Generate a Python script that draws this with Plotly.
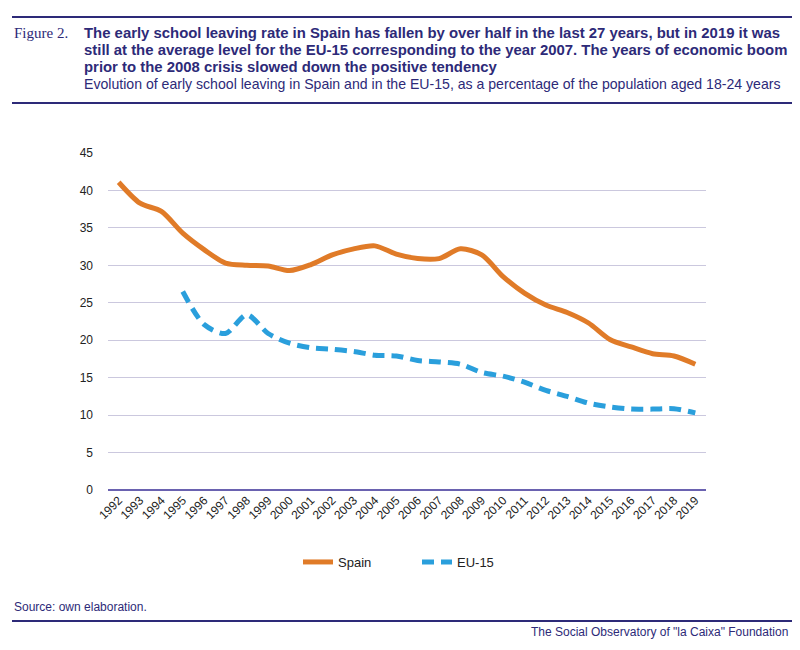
import plotly.graph_objects as go

years = [str(y) for y in range(1992, 2020)]
spain = [41.1, 38.3, 37.2, 34.3, 32.1, 30.3, 30.0, 29.9, 29.3, 30.1, 31.4, 32.2, 32.6,
         31.5, 30.9, 30.9, 32.2, 31.4, 28.5, 26.3, 24.7, 23.7, 22.3, 20.1, 19.1, 18.2,
         17.9, 16.8]
eu15_years = years[3:]
eu15 = [26.5, 22.1, 20.9, 23.4, 20.9, 19.6, 19.0, 18.8, 18.5, 18.0, 17.9, 17.3, 17.1,
        16.8, 15.7, 15.2, 14.4, 13.3, 12.5, 11.6, 11.1, 10.8, 10.8, 10.85, 10.3]

title_lines = [
    "The early school leaving rate in Spain has fallen by over half in the last 27 years, but in 2019 it was",
    "still at the average level for the EU-15 corresponding to the year 2007. The years of economic boom",
    "prior to the 2008 crisis slowed down the positive tendency",
]
subtitle = "Evolution of early school leaving in Spain and in the EU-15, as a percentage of the population aged 18-24 years"

NAVY = "#2d2a78"
ORANGE = "#e07b28"
BLUE = "#2a9fdc"

# the page body adds an 8px margin, so work in shifted pixel coords
OFF = 8
W, H = 800 - OFF, 650 - OFF
L, R, T, B = 108 - OFF, 706 - OFF, 153 - OFF, 490 - OFF


def px(x):
    return (x - OFF - L) / (R - L)


def py(y):
    return (B - (y - OFF)) / (B - T)


fig = go.Figure()
fig.add_trace(go.Scatter(x=years, y=spain, name="Spain", mode="lines",
                         line=dict(color=ORANGE, width=5, shape="spline", smoothing=0.8)))
fig.add_trace(go.Scatter(x=eu15_years, y=eu15, name="EU-15", mode="lines",
                         line=dict(color=BLUE, width=5, shape="spline", smoothing=0.8,
                                   dash="12px,7px")))

ann = [
    dict(x=px(12), y=py(33), text="Figure 2.", xanchor="left", yanchor="middle",
         font=dict(family="Liberation Serif", size=15, color=NAVY)),
    dict(x=px(82), y=py(84), text=subtitle, xanchor="left", yanchor="middle",
         font=dict(family="Liberation Sans", size=14.1, color=NAVY)),
    dict(x=px(12), y=py(607), text="Source: own elaboration.", xanchor="left", yanchor="middle",
         font=dict(family="Liberation Sans", size=12, color=NAVY)),
    dict(x=px(790), y=py(632), text='The Social Observatory of "la Caixa" Foundation',
         xanchor="right", yanchor="middle",
         font=dict(family="Liberation Sans", size=12, color=NAVY)),
]
for i, line in enumerate(title_lines):
    ann.append(dict(x=px(82), y=py(33 + 17 * i), text="<b>" + line + "</b>",
                    xanchor="left", yanchor="middle",
                    font=dict(family="Liberation Sans", size=14.9, color=NAVY)))
for a in ann:
    a.update(xref="paper", yref="paper", showarrow=False)

shapes = []
for yy in (17, 103, 621):
    shapes.append(dict(type="line", xref="paper", yref="paper",
                       x0=px(12), x1=px(792), y0=py(yy), y1=py(yy),
                       line=dict(color=NAVY, width=2)))

fig.update_layout(
    width=W, height=H,
    margin=dict(l=L, r=W - R, t=T, b=H - B),
    paper_bgcolor="white", plot_bgcolor="white",
    font=dict(family="Liberation Sans", size=11, color="#222222"),
    showlegend=True,
    legend=dict(orientation="h", x=px(298), xanchor="left", y=py(562), yanchor="middle",
                font=dict(family="Liberation Sans", size=13, color="#222222"),
                entrywidth=74),
    annotations=ann,
    shapes=shapes,
    xaxis=dict(type="category", range=[-0.5, 27.5], tickangle=-45, showgrid=False,
               ticks="", tickfont=dict(size=12)),
    yaxis=dict(range=[0, 45], dtick=5, gridcolor="#cbc8de", gridwidth=1,
               zeroline=True, zerolinecolor="#6a62b0", zerolinewidth=1.5,
               ticks="", ticklabelstandoff=14, tickfont=dict(size=12)),
)

fig.write_html("out.html")
